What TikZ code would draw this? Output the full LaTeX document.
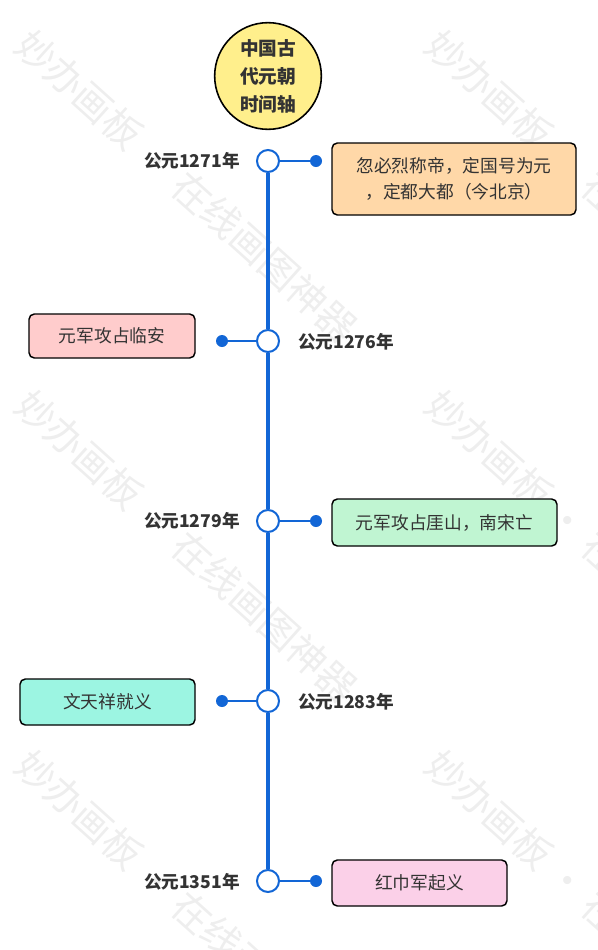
\documentclass[tikz,border=0pt]{standalone}
\usepackage{fontspec}
\setmainfont{Noto Sans CJK SC}
\usetikzlibrary{shapes.geometric}
\definecolor{tlblue}{RGB}{18,102,214}
\definecolor{titlefill}{RGB}{255,239,140}
\definecolor{peach}{RGB}{255,216,168}
\definecolor{pinkA}{RGB}{255,204,204}
\definecolor{greenA}{RGB}{192,245,210}
\definecolor{aquaA}{RGB}{156,245,226}
\definecolor{pinkB}{RGB}{251,208,232}
\definecolor{txt}{RGB}{51,51,51}
\definecolor{wmgray}{RGB}{238,238,238}
\begin{document}
\begin{tikzpicture}[x=0.75pt,y=-0.75pt,
  wm/.style={text=wmgray,font=\fontsize{29}{29}\selectfont,rotate=-42,anchor=west,inner sep=0pt},
  titlenode/.style={circle,draw=black,line width=1.2pt,fill=titlefill,minimum size=80pt,inner sep=0pt,align=center,font=\fontsize{14}{21}\selectfont\bfseries,text=txt},
  mk/.style={circle,draw=tlblue,line width=1.5pt,fill=white,minimum size=16.5pt,inner sep=0pt},
  dotnode/.style={circle,fill=tlblue,minimum size=9pt,inner sep=0pt},
  tl/.style={draw=tlblue,line width=2.4pt},
  conn/.style={draw=tlblue,line width=1.5pt},
  year/.style={font=\fontsize{13.2}{15}\selectfont\bfseries,text=txt,inner sep=0pt},
  box/.style={draw=black,line width=1.1pt,rounded corners=4pt,align=center,font=\fontsize{13.3}{20}\selectfont,text=txt,inner sep=0pt}
]
\useasboundingbox (0,0) rectangle (598,950);
% watermarks
\foreach \x/\y in {22/38,432/38,22/398,432/398,22/758,432/758}{
  \node[wm] at (\x,\y) {妙办画板 · 在线画图神器};
}
% title
\node[titlenode] (t) at (268,76) {中国古\\代元朝\\时间轴};
% markers
\node[mk] (m1) at (268,161) {};
\node[mk] (m2) at (268,341) {};
\node[mk] (m3) at (268,521) {};
\node[mk] (m4) at (268,701) {};
\node[mk] (m5) at (268,881) {};
% timeline
\draw[tl] (m1) -- (m2);
\draw[tl] (m2) -- (m3);
\draw[tl] (m3) -- (m4);
\draw[tl] (m4) -- (m5);
% dots
\node[dotnode] (d1) at (316,161) {};
\node[dotnode] (d2) at (222,341) {};
\node[dotnode] (d3) at (316,521) {};
\node[dotnode] (d4) at (222,701) {};
\node[dotnode] (d5) at (316,881) {};
\draw[conn] (m1) -- (d1);
\draw[conn] (m2) -- (d2);
\draw[conn] (m3) -- (d3);
\draw[conn] (m4) -- (d4);
\draw[conn] (m5) -- (d5);
% years
\node[year,anchor=east] (y1) at (240,161) {公元1271年};
\node[year,anchor=west] (y2) at (298,342) {公元1276年};
\node[year,anchor=east] (y3) at (240,521) {公元1279年};
\node[year,anchor=west] (y4) at (298,702) {公元1283年};
\node[year,anchor=east] (y5) at (240,882) {公元1351年};
% boxes
\node[box,fill=peach,minimum width=183pt,minimum height=54pt] (b1) at (454,179) {忽必烈称帝，定国号为元\\，定都大都（今北京）};
\node[box,fill=pinkA,minimum width=124.5pt,minimum height=33pt] (b2) at (112,336) {元军攻占临安};
\node[box,fill=greenA,minimum width=168.75pt,minimum height=35.25pt] (b3) at (444.5,522.5) {元军攻占厓山，南宋亡};
\node[box,fill=aquaA,minimum width=131.25pt,minimum height=34.5pt] (b4) at (107.5,702) {文天祥就义};
\node[box,fill=pinkB,minimum width=131.25pt,minimum height=34.5pt] (b5) at (419.5,883) {红巾军起义};
\end{tikzpicture}
\end{document}
